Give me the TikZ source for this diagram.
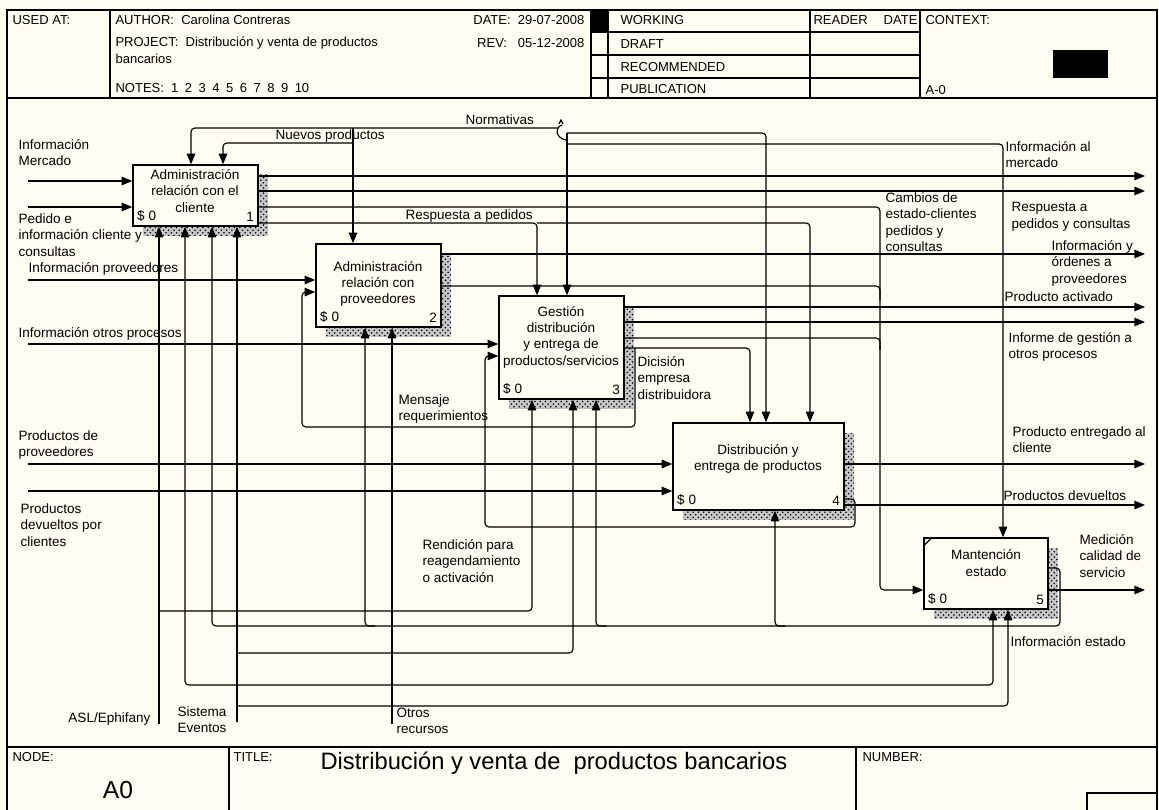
\documentclass[tikz,border=0pt]{standalone}
\usepackage{fontspec}
\setmainfont{Liberation Sans}
\usetikzlibrary{arrows.meta,patterns,shadows}
\definecolor{paper}{RGB}{255,253,241}
\newcommand{\lblfont}{\fontsize{7.7}{9.3}\selectfont}
\newcommand{\hdfont}{\fontsize{7.4}{9}\selectfont}

\begin{document}
\begin{tikzpicture}[x=0.02cm,y=-0.02cm,>={Triangle[length=6pt,width=4.8pt]},
    line width=0.65pt,
    proc/.style={draw,fill=paper,line width=0.85pt,inner sep=0pt,
      general shadow={draw=none,fill=black!22,shadow xshift=0.2cm,shadow yshift=-0.2cm},
      general shadow={draw=none,pattern=crosshatch dots,pattern color=black,
        shadow xshift=0.2cm,shadow yshift=-0.2cm}},
    ptext/.style={align=center,font=\lblfont,inner sep=0pt},
    num/.style={font=\lblfont,inner sep=2.5pt},
    lbl/.style={align=left,anchor=north west,font=\lblfont,inner sep=0pt},
    hd/.style={anchor=west,font=\hdfont,inner sep=0pt},
    arr/.style={->,rounded corners=2.2pt},
    link/.style={rounded corners=2.2pt}]

  \fill[paper] (0,0) rectangle (1159,810);
  \useasboundingbox (0,0) rectangle (1159,810);

  % frame, header and title block
  \draw[line width=0.9pt] (7,10) rectangle (1157,815);
  \draw (7,98) -- (1157,98);
  \foreach \x in {110,591,608,810,920} \draw (\x,10) -- (\x,98);
  \foreach \y in {32,55,78} \draw (591,\y) -- (920,\y);
  \fill (591,10) rectangle (608,32);
  \fill (1053,50) rectangle (1108,78);
  \draw (7,747) -- (1157,747);
  \draw (229,747) -- (229,815);
  \draw (856,747) -- (856,815);
  \draw (1087,815) -- (1087,793) -- (1157,793);

  \node[hd] (usedat) at (12,20) {USED AT:};
  \node[hd] (author) at (115,20) {AUTHOR:\ \ Carolina Contreras};
  \node[hd] (project) at (115,43) {PROJECT:\ \ Distribución y venta de productos};
  \node[hd] (project2) at (115,59) {bancarios};
  \node[hd] (notes) at (115,88) {NOTES:\ \ 1\enspace 2\enspace 3\enspace 4\enspace 5\enspace 6\enspace 7\enspace 8\enspace 9\enspace 10};
  \node[hd,anchor=east] (date) at (585,20) {DATE:\ \ 29-07-2008};
  \node[hd,anchor=east] (rev) at (585,43) {REV:\ \ \ 05-12-2008};
  \node[hd] (working) at (620,20) {WORKING};
  \node[hd] (draft) at (620,44) {DRAFT};
  \node[hd] (recom) at (620,67) {RECOMMENDED};
  \node[hd] (public) at (620,89) {PUBLICATION};
  \node[hd] (reader) at (813,20) {READER};
  \node[hd,anchor=east] (rdate) at (918,20) {DATE};
  \node[hd] (context) at (925,20) {CONTEXT:};
  \node[hd] (ctxnode) at (925,90) {A-0};
  \node[hd] (nodehd) at (12,757) {NODE:};
  \node[font=\fontsize{14}{16}\selectfont,inner sep=0pt] (nodeid) at (118,790) {A0};
  \node[hd] (titlehd) at (233,757) {TITLE:};
  \node[anchor=west,font=\fontsize{13.5}{16}\selectfont,inner sep=0pt] (title) at (320,763) {Distribución y venta de\ \ productos bancarios};
  \node[hd] (numberhd) at (862,757) {NUMBER:};

  % activities
  \node[proc,minimum width=2.5cm,minimum height=1.22cm,
    label={[num,anchor=south west]south west:\$ 0},label={[num,anchor=south east]south east:1}] (b1) at (195.5,195.5) {};
  \node[proc,minimum width=2.5cm,minimum height=1.66cm,
    label={[num,anchor=south west]south west:\$ 0},label={[num,anchor=south east]south east:2}] (b2) at (378.5,285.5) {};
  \node[proc,minimum width=2.5cm,minimum height=2.06cm,
    label={[num,anchor=south west]south west:\$ 0},label={[num,anchor=south east]south east:3}] (b3) at (561.5,347.5) {};
  \node[proc,minimum width=3.42cm,minimum height=1.74cm,
    label={[num,anchor=south west]south west:\$ 0},label={[num,anchor=south east]south east:4}] (b4) at (758.5,466.5) {};
  \node[proc,minimum width=2.48cm,minimum height=1.42cm,
    label={[num,anchor=south west]south west:\$ 0},label={[num,anchor=south east]south east:5}] (b5) at (986,573.5) {};
  \draw ([yshift=-0.18cm]b5.north west) -- ([xshift=0.18cm]b5.north west);

  \node[ptext] (t1) at (195,191) {Administración\\relación con el\\cliente};
  \node[ptext] (t2) at (378,284) {Administración\\relación con\\proveedores};
  \node[ptext] (t3) at (561,337) {Gestión\\distribución\\y entrega de\\productos/servicios};
  \node[ptext] (t4) at (758,459) {Distribución y\\entrega de productos};
  \node[ptext] (t5) at (986,563) {Mantención\\estado};

  % free ends of the boundary arrows
  \coordinate (iMerc) at (28,181);
  \coordinate (iPed) at (28,207);
  \coordinate (iProv) at (28,280);
  \coordinate (iOtros) at (28,344);
  \coordinate (iPP) at (28,464);
  \coordinate (iDev) at (28,491);
  \coordinate (oMerc) at (1145,176);
  \coordinate (oResp) at (1145,191);
  \coordinate (oProv) at (1145,254);
  \coordinate (oAct) at (1145,307);
  \coordinate (oInf) at (1145,322);
  \coordinate (oEnt) at (1145,464);
  \coordinate (oDev) at (1145,505);
  \coordinate (oMed) at (1145,590);
  \coordinate (mASL) at (159,724);
  \coordinate (mSis) at (237,722);
  \coordinate (mOtr) at (392,724);
  \coordinate (tNorm) at (558,128);
  \coordinate (tNorm2) at (567,133);
  \coordinate (jNuevo) at (353,128);

  % inputs
  \draw[arr] (iMerc) -- (b1.west |- iMerc);
  \draw[arr] (iPed) -- (b1.west |- iPed);
  \draw[arr] (iProv) -- (b2.west |- iProv);
  \draw[arr] (iOtros) -- (b3.west |- iOtros);
  \draw[arr] (iPP) -- (b4.west |- iPP);
  \draw[arr] (iDev) -- (b4.west |- iDev);

  % controls
  \draw (559,124) -- (561,120) -- (563,124);
  \draw (562,125) .. controls (555,127) and (555,138) .. (566,140);
  \draw[arr] (tNorm) -- (191,128) -- (b1.north -| 191,0);
  \draw[arr] (tNorm2) -- (b3.north -| tNorm2);
  \draw[arr] (tNorm2) -- (766,133) -- (b4.north -| 766,0);
  \draw[arr] (tNorm2 |- 0,144) -- (1003,144) -- (b5.north -| 1003,0);
  \draw[arr] (jNuevo) -- (b2.north -| jNuevo);
  \draw[arr] (jNuevo |- 0,143) -- (223,143) -- (b1.north -| 223,0);

  % outputs of 1
  \draw[arr] (b1.east |- oMerc) -- (oMerc);
  \draw[arr] (b1.east |- oResp) -- (oResp);
  \draw[arr] (b1.east |- 0,207) -- (880,207) -- (880,590) -- (b5.west |- 0,590);
  \draw[arr] (b1.east |- 0,223) -- (537,223) -- (b3.north -| 537,0);
  \draw[arr] (537,223) -- (810,223) -- (b4.north -| 810,0);
  % outputs of 2
  \draw[arr] (b2.east |- oProv) -- (oProv);
  \draw[link] (b2.east |- 0,286) -- (880,286) -- (880,300);
  % outputs of 3
  \draw[arr] (b3.east |- oAct) -- (oAct);
  \draw[arr] (b3.east |- oInf) -- (oInf);
  \draw[link] (b3.east |- 0,338) -- (880,338) -- (880,350);
  \draw[arr] (b3.east |- 0,348) -- (750,348) -- (b4.north -| 750,0);
  \draw[arr] (635,348) -- (635,427) -- (302,427) -- (302,292) -- (b2.west |- 0,292);
  % outputs of 4
  \draw[arr] (b4.east |- oEnt) -- (oEnt);
  \draw[arr] (b4.east |- oDev) -- (oDev);
  \draw[arr] (b4.east |- 0,499) -- (855,499) -- (855,527) -- (485,527) -- (485,356) -- (b3.west |- 0,356);
  % outputs of 5
  \draw[arr] (b5.east |- oMed) -- (oMed);
  \draw[arr] (b5.east |- 0,568) -- (1060,568) -- (1060,626) -- (212,626) -- (b1.south -| 212,0);
  \draw[arr] (375,626) -- (365,626) -- (b2.south -| 365,0);
  \draw[arr] (606,626) -- (596,626) -- (b3.south -| 596,0);
  \draw[arr] (785,626) -- (775,626) -- (b4.south -| 775,0);

  % mechanisms
  \draw[arr] (mASL) -- (b1.south -| mASL);
  \draw[arr] (mASL |- 0,611) -- (532,611) -- (b3.south -| 532,0);
  \draw[arr] (mSis) -- (b1.south -| mSis);
  \draw[arr] (mSis |- 0,653) -- (573,653) -- (b3.south -| 573,0);
  \draw[arr] (mSis |- 0,706) -- (1008,706) -- (b5.south -| 1008,0);
  \draw[arr] (mOtr) -- (b2.south -| mOtr);
  \draw[arr] (mOtr |- 0,685) -- (185,685) -- (b1.south -| 185,0);
  \draw[arr] (mOtr |- 0,685) -- (993,685) -- (b5.south -| 993,0);

  % arrow labels
  \node[lbl] (lMerc) at (18,139) {Información\\Mercado};
  \node[lbl] (lPed) at (18,213) {Pedido e\\información cliente y\\consultas};
  \node[lbl] (lProv) at (28,262) {Información proveedores};
  \node[lbl] (lOtros) at (18,327) {Información otros procesos};
  \node[lbl] (lPP) at (18,430) {Productos de\\proveedores};
  \node[lbl] (lDev) at (20,503) {Productos\\devueltos por\\clientes};
  \node[lbl] (lNuevo) at (275,129) {Nuevos productos};
  \node[lbl] (lNorm) at (465,114) {Normativas};
  \node[lbl] (lResp) at (405,209) {Respuesta a pedidos};
  \node[lbl] (lCamb) at (885,192) {Cambios de\\estado-clientes\\pedidos y\\consultas};
  \node[lbl] (loMerc) at (1005,141) {Información al\\mercado};
  \node[lbl] (loResp) at (1011,202) {Respuesta a\\pedidos y consultas};
  \node[lbl] (loProv) at (1051,240) {Información y\\órdenes a\\proveedores};
  \node[lbl] (loAct) at (1004,291) {Producto activado};
  \node[lbl] (loInf) at (1008,332) {Informe de gestión a\\otros procesos};
  \node[lbl] (lDec) at (637,356) {Dicisión\\empresa\\distribuidora};
  \node[lbl] (lMens) at (398,394) {Mensaje\\requerimientos};
  \node[lbl] (loEnt) at (1012,426) {Producto entregado al\\cliente};
  \node[lbl] (loDev) at (1003,490) {Productos devueltos};
  \node[lbl] (loMed) at (1079,534) {Medición\\calidad de\\servicio};
  \node[lbl] (lRend) at (422,539) {Rendición para\\reagendamiento\\o activación};
  \node[lbl] (lEst) at (1010,636) {Información estado};
  \node[lbl,anchor=north east] (lASL) at (151,712) {ASL/Ephifany};
  \node[lbl] (lSis) at (177,706) {Sistema\\Eventos};
  \node[lbl] (lOtr) at (396,707) {Otros\\recursos};
\end{tikzpicture}
\end{document}
